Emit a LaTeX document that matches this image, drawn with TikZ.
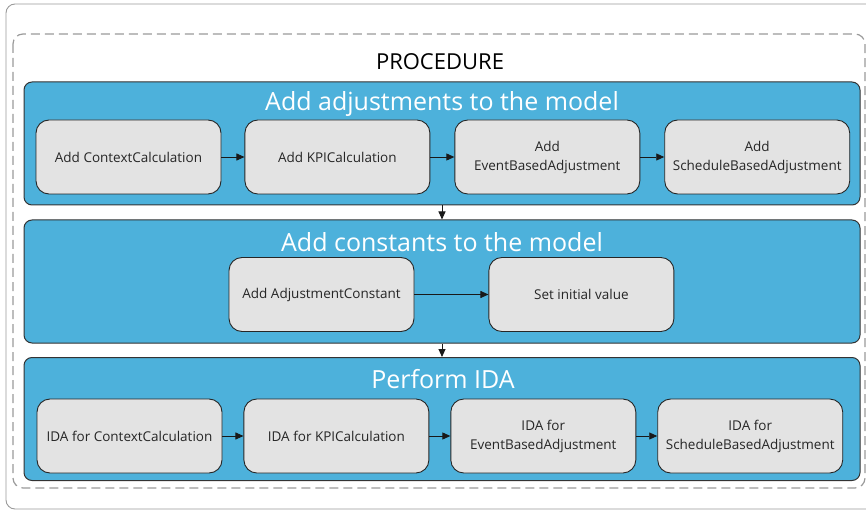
\documentclass[tikz,border=0pt]{standalone}
\usepackage{fontspec}
\setmainfont{Open Sans}
\usepackage{xcolor}
\usetikzlibrary{arrows.meta,positioning}

\definecolor{panelblue}{HTML}{4DB1DB}
\definecolor{boxgrey}{HTML}{E3E3E3}
\definecolor{framegrey}{HTML}{9A9A9A}

\begin{document}
\begin{tikzpicture}[
  x=1pt, y=-1pt,
  panel/.style={draw=black!80, fill=panelblue, rounded corners=8pt, line width=1pt,
    minimum width=836pt, minimum height=123pt, inner sep=0pt},
  title/.style={font=\fontsize{25}{28}\selectfont, text=white},
  stepbox/.style={draw=black!85, fill=boxgrey, rounded corners=13pt, line width=0.9pt,
    align=center, minimum width=185pt, minimum height=74pt, inner sep=2pt,
    font=\fontsize{13.5}{19}\selectfont, text=black!85},
  arrow/.style={-{Triangle[length=8pt, width=7pt]}, line width=0.9pt, black!90}
]
\useasboundingbox (0,0) rectangle (866,510);

% frames
\draw[framegrey, line width=0.9pt, rounded corners=9pt] (6,4) rectangle (875,509);
\draw[framegrey, line width=1.2pt, dash pattern=on 9pt off 5pt, rounded corners=10pt] (13,34) rectangle (865,488);
\node[font=\fontsize{22}{24}\selectfont, text=black] (proc) at (440,62) {PROCEDURE};

% panels
\node[panel] (adjust) at (442,143.5) {};
\node[panel] (const) at (442,281.5) {};
\node[panel] (ida) at (442,419) {};

\node[title] (adjusttitle) at (442,104) {Add adjustments to the model};
\node[title] (consttitle) at (442,242) {Add constants to the model};
\node[title] (idatitle) at (443,379) {Perform IDA};

% adjustments
\node[stepbox] (addctx) at (128.5,157) {Add ContextCalculation};
\node[stepbox, right=23pt of addctx] (addkpi) {Add KPICalculation};
\node[stepbox, right=24pt of addkpi] (addevent) {Add\\EventBasedAdjustment};
\node[stepbox, right=24pt of addevent] (addsched) {Add\\ScheduleBasedAdjustment};

% constants
\node[stepbox] (addconst) at (321.5,294.5) {Add AdjustmentConstant};
\node[stepbox, right=74pt of addconst] (initval) {Set initial value};

% IDA
\node[stepbox] (idactx) at (129.5,436) {IDA for ContextCalculation};
\node[stepbox, right=21pt of idactx] (idakpi) {IDA for KPICalculation};
\node[stepbox, right=21pt of idakpi] (idaevent) {IDA for\\EventBasedAdjustment};
\node[stepbox, right=21pt of idaevent] (idasched) {IDA for\\ScheduleBasedAdjustment};

\draw[arrow] (addctx) -- (addkpi);
\draw[arrow] (addkpi) -- (addevent);
\draw[arrow] (addevent) -- (addsched);
\draw[arrow] (addconst) -- (initval);
\draw[arrow] (idactx) -- (idakpi);
\draw[arrow] (idakpi) -- (idaevent);
\draw[arrow] (idaevent) -- (idasched);
\draw[arrow] (adjust) -- (const);
\draw[arrow] (const) -- (ida);
\end{tikzpicture}
\end{document}
